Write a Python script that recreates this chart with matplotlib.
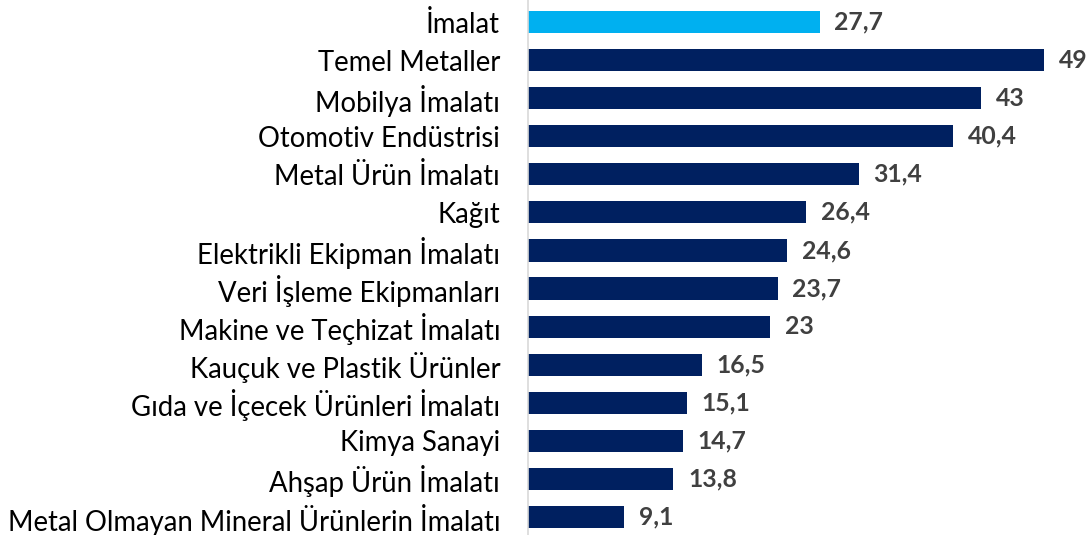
import matplotlib
matplotlib.use('Agg')
import matplotlib.pyplot as plt

plt.rcParams['font.family'] = ['Lato', 'DejaVu Sans']

# veriler
kategoriler = ['İmalat', 'Temel Metaller', 'Mobilya İmalatı', 'Otomotiv Endüstrisi',
               'Metal Ürün İmalatı', 'Kağıt', 'Elektrikli Ekipman İmalatı',
               'Veri İşleme Ekipmanları', 'Makine ve Teçhizat İmalatı',
               'Kauçuk ve Plastik Ürünler', 'Gıda ve İçecek Ürünleri İmalatı',
               'Kimya Sanayi', 'Ahşap Ürün İmalatı',
               'Metal Olmayan Mineral Ürünlerin İmalatı']
degerler = [27.7, 49, 43, 40.4, 31.4, 26.4, 24.6, 23.7, 23, 16.5, 15.1, 14.7, 13.8, 9.1]
renkler = ['#00B0F0'] + ['#002060'] * (len(degerler) - 1)

fig = plt.figure(figsize=(10.89, 5.35), dpi=100)
ax = fig.add_axes([528 / 1089, 0, 561 / 1089, 1])

y = list(range(len(kategoriler)))
ax.barh(y, degerler, height=0.58, color=renkler)

# değer etiketleri
for i, v in enumerate(degerler):
    etiket = ('%g' % v).replace('.', ',')
    ax.text(v + 1.4, i, etiket, va='center', ha='left', fontsize=17.8,
            fontweight='bold', color='#404040')

ax.set_yticks(y)
ax.set_yticklabels(kategoriler, fontsize=19.8, color='black')
ax.tick_params(axis='y', length=0, pad=20)
ax.set_xticks([])
ax.set_xlim(0, 49 * 561 / 516)
ax.set_ylim(13 + 18 / 38.08, -22 / 38.08)

for s in ['top', 'right', 'bottom']:
    ax.spines[s].set_visible(False)
ax.spines['left'].set_color('#D9D9D9')
ax.spines['left'].set_linewidth(1.2)

fig.savefig('out.png', dpi=100)
